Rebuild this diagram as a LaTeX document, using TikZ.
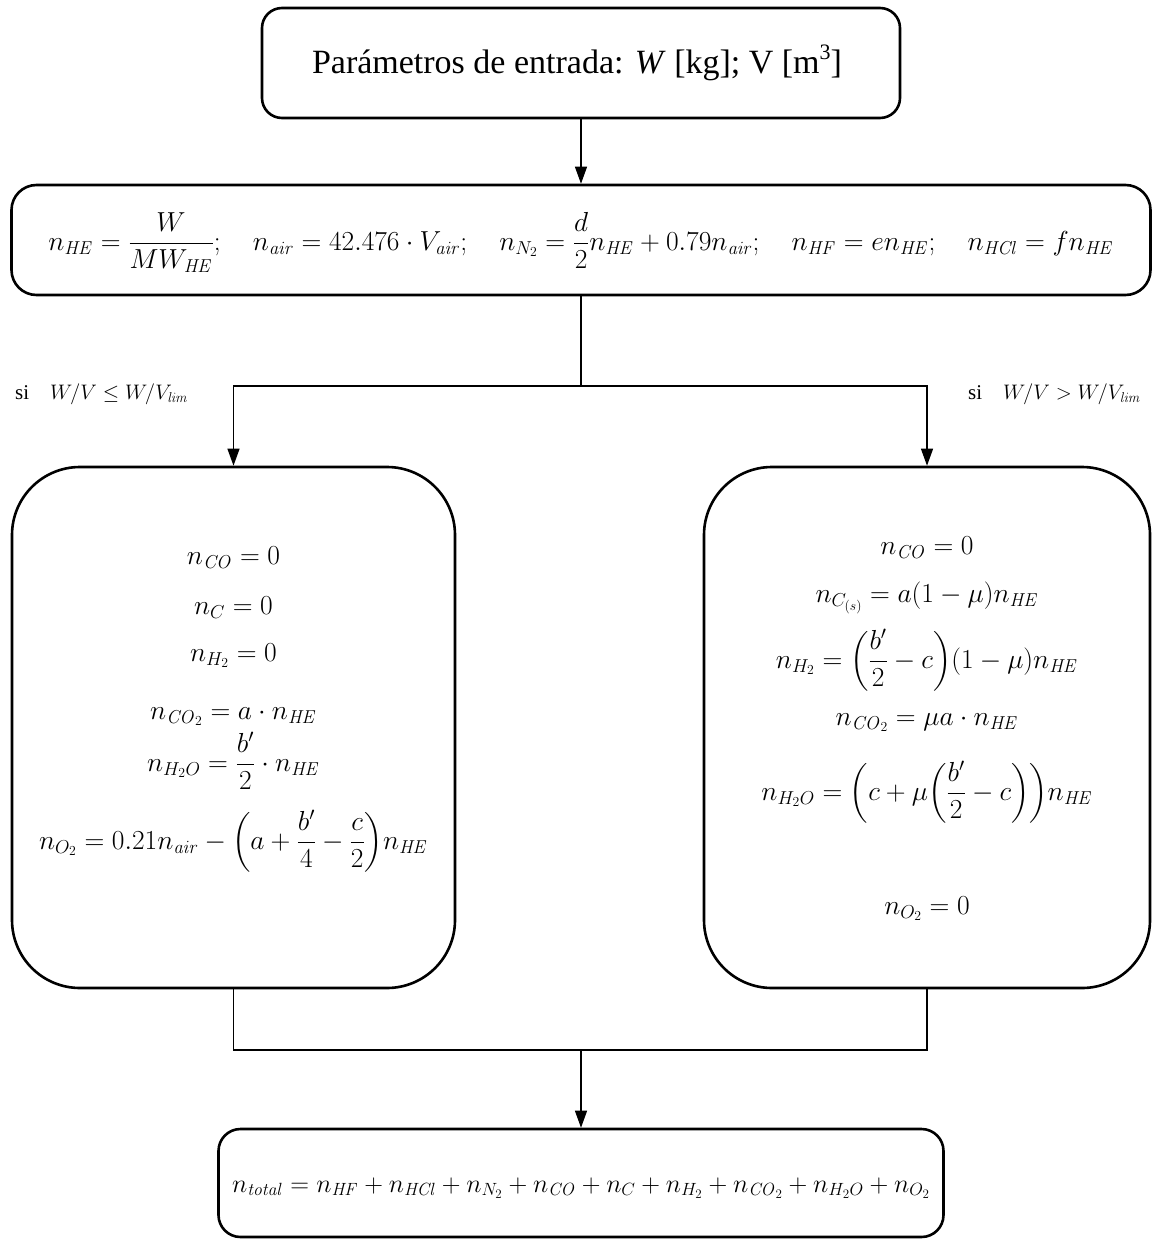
\RequirePackage{fix-cm}
\documentclass[tikz,border=0pt]{standalone}
\usepackage{amsmath}
\usepackage[no-math]{fontspec}
\setmainfont{Liberation Serif}
\usetikzlibrary{arrows.meta}
\renewcommand\defaultscriptratio{.68}
\renewcommand\defaultscriptscriptratio{.5}
\begin{document}
\begin{tikzpicture}[x=1pt,y=-1pt,
  box/.style={draw, line width=2.6pt, inner sep=0pt},
  conn/.style={line width=1.2pt},
  arr/.style={conn, -{Triangle[length=17pt,width=12pt]}},
  eq/.style={anchor=base, inner sep=0pt, font=\fontsize{27.5}{33}\selectfont},
  lbl/.style={anchor=base west, inner sep=0pt, font=\fontsize{21}{25}\selectfont}]
\useasboundingbox (0,0) rectangle (1159,1239);

% boxes
\node[box, rounded corners=20pt, minimum width=638pt, minimum height=110pt] (top) at (581,63) {};
\node[box, rounded corners=25pt, minimum width=1139pt, minimum height=110pt] (second) at (581,240) {};
\node[box, rounded corners=68pt, minimum width=443pt, minimum height=521pt] (left) at (233.5,727.5) {};
\node[box, rounded corners=68pt, minimum width=446pt, minimum height=521pt] (right) at (927,727.5) {};
\node[box, rounded corners=22pt, minimum width=725pt, minimum height=108pt] (bottom) at (581,1183) {};

% texts
\node[eq, font=\fontsize{34}{40}\selectfont] (toptext) at (577,74) {Parámetros de entrada: \textit{W} [kg]; V [m\raisebox{0.42em}{\fontsize{22}{24}\selectfont 3}]};
\node[eq, font=\fontsize{27.5}{32}\selectfont] (secondtext) at (581,250) {$\displaystyle n_{\mathit{HE}}=\frac{W}{MW_{\mathit{HE}}};\quad n_{\mathit{air}}=42.476\cdot V_{\mathit{air}};\quad n_{N_2}=\frac{d}{2}n_{\mathit{HE}}+0.79n_{\mathit{air}};\quad n_{\mathit{HF}}=en_{\mathit{HE}};\quad n_{\mathit{HCl}}=fn_{\mathit{HE}}$};

\node[eq] (l1) at (233.5,564) {$n_{\mathit{CO}}=0$};
\node[eq] (l2) at (233.5,614) {$n_{C}=0$};
\node[eq] (l3) at (233.5,661) {$n_{H_2}=0$};
\node[eq] (l4) at (233.5,719) {$n_{\mathit{CO}_2}=a\cdot n_{\mathit{HE}}$};
\node[eq] (l5) at (233.5,771) {$\displaystyle n_{H_2O}=\frac{b'}{2}\cdot n_{\mathit{HE}}$};
\node[eq] (l6) at (233.5,849) {$\displaystyle n_{O_2}=0.21n_{\mathit{air}}-{\left(a+\frac{b'}{4}-\frac{c}{2}\right)}n_{\mathit{HE}}$};

\node[eq] (r1) at (927,554) {$n_{\mathit{CO}}=0$};
\node[eq] (r2) at (927,602) {$n_{C_{(s)}}=a(1-\mu)n_{\mathit{HE}}$};
\node[eq] (r3) at (927,668) {$\displaystyle n_{H_2}={\left(\frac{b'}{2}-c\right)}(1-\mu)n_{\mathit{HE}}$};
\node[eq] (r4) at (927,725) {$n_{\mathit{CO}_2}=\mu a\cdot n_{\mathit{HE}}$};
\node[eq] (r5) at (927,800) {$\displaystyle n_{H_2O}={\left(c+\mu{\left(\frac{b'}{2}-c\right)}\right)}n_{\mathit{HE}}$};
\node[eq] (r6) at (927,914) {$n_{O_2}=0$};

\node[eq, font=\fontsize{26}{32}\selectfont] (bottomtext) at (581,1192) {$n_{\mathit{total}}=n_{\mathit{HF}}+n_{\mathit{HCl}}+n_{N_2}+n_{\mathit{CO}}+n_{C}+n_{H_2}+n_{\mathit{CO}_2}+n_{H_2O}+n_{O_2}$};

\node[lbl] (condl) at (15,399) {si\quad$W/V\le W/V_{\mathit{lim}}$};
\node[lbl] (condr) at (968,399) {si\quad$W/V> W/V_{\mathit{lim}}$};

% connectors
\coordinate (split) at (581,386);
\coordinate (join) at (581,1050);
\draw[arr] (top.south) -- (second.north);
\draw[conn] (second.south) -- (split);
\draw[arr] (split) -| (left.north);
\draw[arr] (split) -| (right.north);
\draw[conn] (left.south) |- (join);
\draw[conn] (right.south) |- (join);
\draw[arr] (join) -- (bottom.north);
\end{tikzpicture}
\end{document}
